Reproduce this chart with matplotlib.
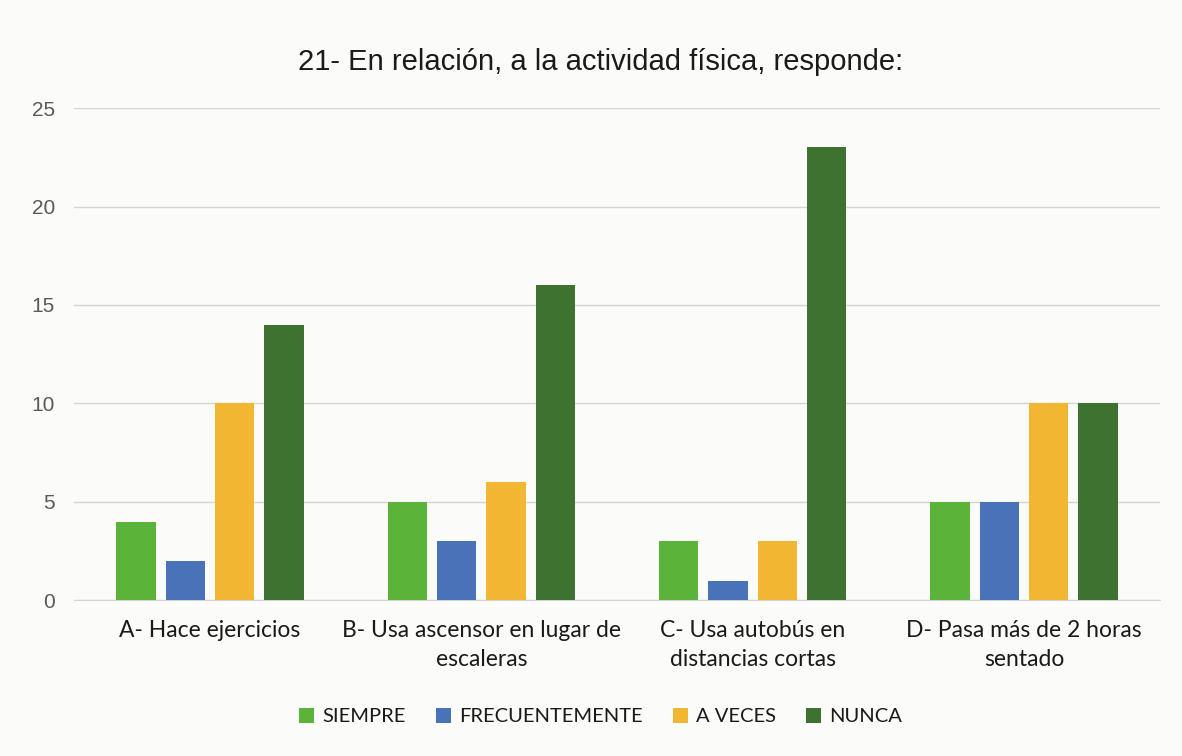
import matplotlib.pyplot as plt
import numpy as np

categories = ["A- Hace ejercicios", "B- Usa ascensor en lugar de\nescaleras",
              "C- Usa autobús en\ndistancias cortas", "D- Pasa más de 2 horas\nsentado"]
series_names = ["SIEMPRE", "FRECUENTEMENTE", "A VECES", "NUNCA"]
siempre = [4, 5, 3, 5]
frecuentemente = [2, 3, 1, 5]
a_veces = [10, 6, 3, 10]
nunca = [14, 16, 23, 10]
yticks = [0, 5, 10, 15, 20, 25]

colors = ["#5cb33a", "#4a72b8", "#f2b732", "#3e7230"]
series = [siempre, frecuentemente, a_veces, nunca]

fig = plt.figure(figsize=(11.82, 7.56), dpi=100)
fig.patch.set_facecolor("#fbfbf9")
ax = fig.add_axes([0.063, 0.206, 0.918, 0.651])
ax.set_facecolor("#fbfbf9")

x = np.arange(len(categories))
w = 0.145
step = 0.182
for i, (vals, name, c) in enumerate(zip(series, series_names, colors)):
    ax.bar(x + (i - 1.5) * step, vals, width=w, color=c, label=name, zorder=3)

ax.set_xlim(-0.5, 3.5)
ax.set_ylim(0, 25)
ax.set_yticks(yticks)
ax.set_yticklabels([str(t) for t in yticks], fontsize=15, color="#595959", family="Liberation Sans")
ax.yaxis.grid(True, color="#d4d4d4", linewidth=1, zorder=0)
ax.tick_params(axis="y", length=0, pad=14)
ax.tick_params(axis="x", length=0, pad=14)
ax.set_xticks(x)
ax.set_xticklabels(categories, fontsize=16.5, color="#1a1a1a", family="Lato", linespacing=1.5)
for s in ["top", "right", "left"]:
    ax.spines[s].set_visible(False)
ax.spines["bottom"].set_color("#d4d4d4")

fig.text(0.508, 0.918, "21- En relación, a la actividad física, responde:", ha="center", va="center",
         fontsize=21, color="#1a1a1a", family="Liberation Sans")

leg = fig.legend(loc="center", bbox_to_anchor=(0.508, 0.052), ncol=4, frameon=False,
                 prop={"family": "Lato", "size": 14.5}, handlelength=0.75, handleheight=0.75,
                 handletextpad=0.4, columnspacing=1.5)
for t in leg.get_texts():
    t.set_color("#1a1a1a")

fig.savefig("out.png", dpi=100, facecolor=fig.get_facecolor())
